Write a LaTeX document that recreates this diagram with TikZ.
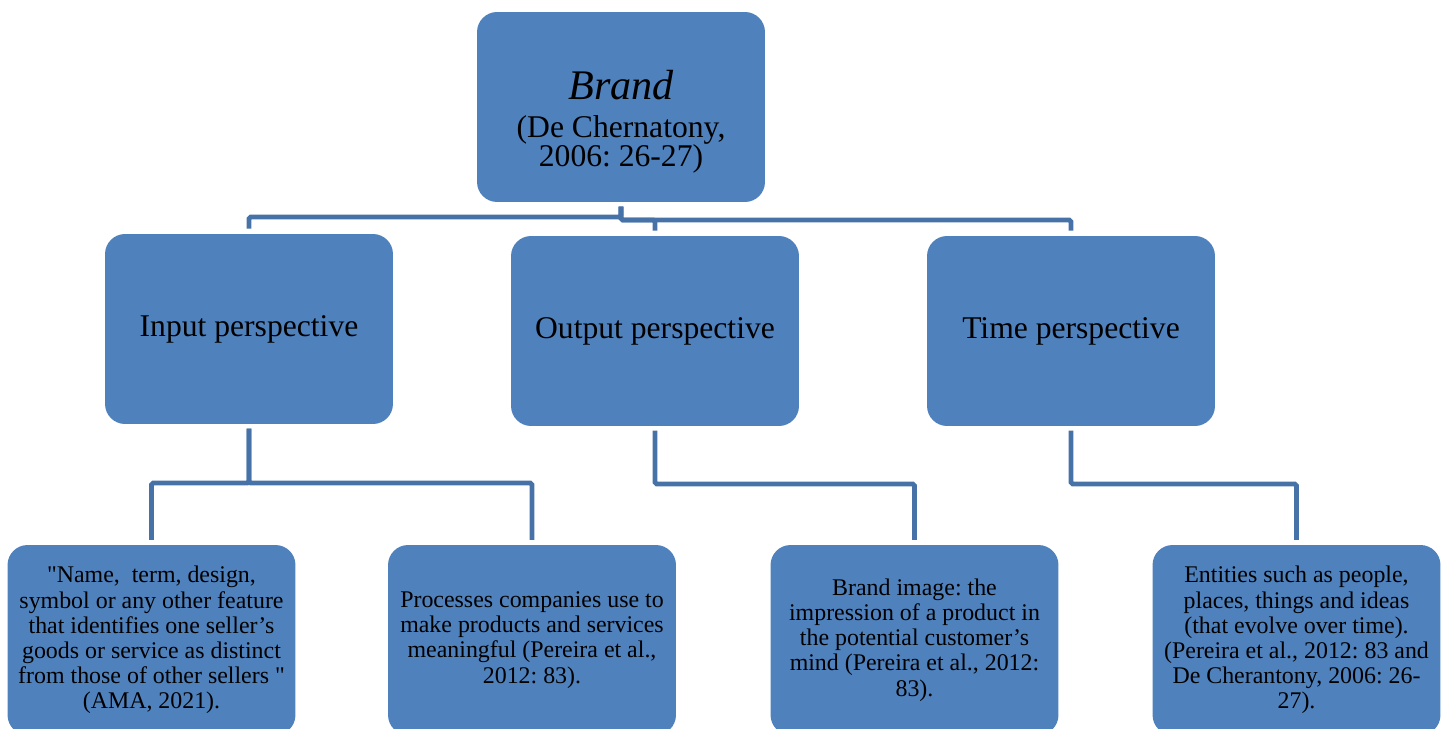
\documentclass[tikz,border=0pt]{standalone}
\usepackage{fontspec}
\setmainfont{Liberation Serif}
\usepackage{xcolor}
\definecolor{boxblue}{HTML}{4F81BD}
\definecolor{lineblue}{HTML}{4672A8}
\frenchspacing

\begin{document}
\begin{tikzpicture}[x=0.02cm, y=-0.02cm, align=center, box/.style={rectangle, rounded corners=0.4cm, fill=boxblue, minimum width=5.76cm, minimum height=3.8cm, inner sep=0pt}, conn/.style={draw=lineblue, line width=2.7pt, rounded corners=1pt, shorten <=2.5pt, shorten >=2.8pt}]
\path[use as bounding box, clip] (0,0) rectangle (1449,729);
\node[box, font=\fontsize{18}{16.5}\selectfont] at (621,107) (b0) {{\fontsize{24}{26}\selectfont\itshape\rule{0pt}{33pt}Brand}\\[5pt](De Chernatony,\\2006: 26-27)};
\node[box, font=\fontsize{18}{20}\selectfont] at (249,329) (p1) {Input perspective};
\node[box, font=\fontsize{18}{20}\selectfont] at (655,331) (p2) {Output perspective};
\node[box, font=\fontsize{18}{20}\selectfont] at (1071,331) (p3) {Time perspective};
\node[box, font=\fontsize{13.6}{14.3}\selectfont] at (151.5,640) (d1) {\textquotedbl Name,\ \ term, design,\\symbol or any other feature\\that identifies one seller's\\goods or service as distinct\\from those of other sellers \textquotedbl\\(AMA, 2021).};
\node[box, font=\fontsize{13.6}{14.3}\selectfont] at (532,640) (d2) {Processes companies use to\\make products and services\\meaningful (Pereira et al.,\\2012: 83).};
\node[box, font=\fontsize{13.6}{14.3}\selectfont] at (914.5,640) (d3) {Brand image: the\\impression of a product in\\the potential customer's\\mind (Pereira et al., 2012:\\83).};
\node[box, font=\fontsize{13.6}{14.3}\selectfont] at (1296.5,640) (d4) {Entities such as people,\\places, things and ideas\\(that evolve over time).\\(Pereira et al., 2012: 83 and\\De Cherantony, 2006: 26-\\27).};
% elbow points
\coordinate (m1) at (621,217);
\coordinate (m2) at (621,220);
\coordinate (n1) at (249,483);
\coordinate (n2) at (655,484);
\coordinate (n3) at (1071,484);
\draw[conn] (b0.south) -- (m1) -| (p1.north);
\draw[conn] (b0.south) -- (m2) -| (p2.north);
\draw[conn] (b0.south) -- (m2) -| (p3.north);
\draw[conn] (p1.south) -- (n1) -| (d1.north);
\draw[conn] (p1.south) -- (n1) -| (d2.north);
\draw[conn] (p2.south) -- (n2) -| (d3.north);
\draw[conn] (p3.south) -- (n3) -| (d4.north);
\end{tikzpicture}
\end{document}
